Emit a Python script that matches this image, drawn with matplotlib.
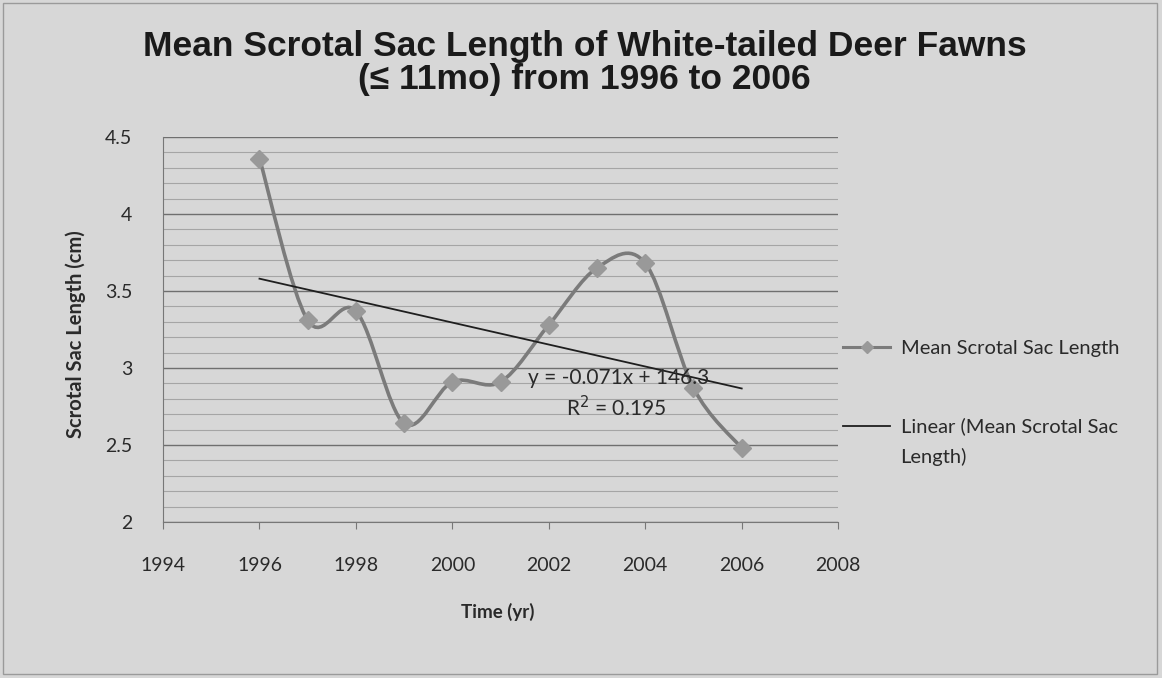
import numpy as np
import matplotlib
matplotlib.use("Agg")
import matplotlib.pyplot as plt
from matplotlib.path import Path
from matplotlib.patches import PathPatch, Rectangle
from matplotlib.lines import Line2D

# Mean scrotal sac length by year
years = [1996, 1997, 1998, 1999, 2000, 2001, 2002, 2003, 2004, 2005, 2006]
mean_length = [4.36, 3.31, 3.37, 2.64, 2.91, 2.91, 3.28, 3.65, 3.68, 2.87, 2.48]

x_ticks = [1994, 1996, 1998, 2000, 2002, 2004, 2006, 2008]
y_ticks = [2, 2.5, 3, 3.5, 4, 4.5]

title = "Mean Scrotal Sac Length of White-tailed Deer Fawns\n(\u2264 11mo) from 1996 to 2006"
series_name = "Mean Scrotal Sac Length"
trend_name = "Linear (Mean Scrotal Sac"
trend_name_cont = "Length)"

BG = "#d7d7d7"
LINE = "#7b7b7b"
MARK = "#999999"
TXT = "#2a2a2a"
body_font = ["Lato", "DejaVu Sans"]

fig = plt.figure(figsize=(11.62, 6.78), dpi=100, facecolor=BG)
ax = fig.add_axes([0.1403, 0.230, 0.581, 0.568])
ax.set_facecolor(BG)

# outer chart border
fig.patches.append(Rectangle((0.003, 0.006), 0.993, 0.989, transform=fig.transFigure,
                             fill=False, edgecolor="#9a9a9a", linewidth=1.0))

ax.set_xlim(1994, 2008)
ax.set_ylim(2, 4.5)
ax.set_xticks(x_ticks)
ax.set_yticks(y_ticks)
ax.set_yticklabels([f"{v:g}" for v in y_ticks])
ax.set_yticks(np.arange(2, 4.5001, 0.1), minor=True)
ax.grid(True, axis="y", which="major", color="#6f6f6f", linewidth=1.0)
ax.grid(True, axis="y", which="minor", color="#a5a5a5", linewidth=0.8)
ax.set_axisbelow(True)
for s in ("top", "right"):
    ax.spines[s].set_visible(False)
for s in ("left", "bottom"):
    ax.spines[s].set_color("#777777")
ax.tick_params(axis="x", which="major", direction="out", length=5, color="#777777",
               labelsize=14, labelcolor=TXT, pad=20)
ax.tick_params(axis="y", which="major", direction="out", length=0,
               labelsize=14, labelcolor=TXT, pad=22)
ax.tick_params(axis="y", which="minor", length=0)
for lab in ax.get_xticklabels() + ax.get_yticklabels():
    lab.set_family(body_font)

# smoothed series line (cubic Bezier segments through every data point)
xs = np.array(years, dtype=float)
ys = np.array(mean_length, dtype=float)
n = len(xs)
verts = [(xs[0], ys[0])]
codes = [Path.MOVETO]
for i in range(n - 1):
    p0 = (xs[max(i - 1, 0)], ys[max(i - 1, 0)])
    p1 = (xs[i], ys[i])
    p2 = (xs[i + 1], ys[i + 1])
    p3 = (xs[min(i + 2, n - 1)], ys[min(i + 2, n - 1)])
    c1 = (p1[0] + (p2[0] - p0[0]) / 6, p1[1] + (p2[1] - p0[1]) / 6)
    c2 = (p2[0] - (p3[0] - p1[0]) / 6, p2[1] - (p3[1] - p1[1]) / 6)
    verts += [c1, c2, p2]
    codes += [Path.CURVE4] * 3
ax.add_patch(PathPatch(Path(verts, codes), facecolor="none", edgecolor=LINE,
                       linewidth=2.6, capstyle="round", joinstyle="round", zorder=3))
ax.plot(years, mean_length, linestyle="none", marker="D", markersize=9,
        color=MARK, markeredgecolor=MARK, zorder=4)

# linear trend line
slope, intercept = np.polyfit(xs, ys, 1)
tx = np.array([xs[0], xs[-1]])
ax.plot(tx, slope * tx + intercept, color="#1e1e1e", linewidth=1.3, zorder=3.5)

ax.text(2003.45, 2.935, "y = -0.071x + 146.3", ha="center", va="center",
        fontsize=15, color=TXT, family=body_font, zorder=5)
ax.text(2003.4, 2.74, "R$^2$ = 0.195", ha="center", va="center",
        fontsize=15, color=TXT, family=body_font, zorder=5)

# axis titles
fig.text(0.065, 0.507, "Scrotal Sac Length (cm)", rotation=90, ha="center", va="center",
         fontsize=14.5, fontweight="bold", color=TXT, family=body_font)
fig.text(0.428, 0.097, "Time (yr)", ha="center", va="center",
         fontsize=13.5, fontweight="bold", color=TXT, family=body_font)

# chart title
fig.text(0.503, 0.907, title, ha="center", va="center", fontsize=25.5, fontweight="bold",
         color="#1a1a1a", family=["Liberation Sans", "DejaVu Sans"], linespacing=1.03)

# legend
handles = [Line2D([0], [0], color=LINE, linewidth=2.2, marker="D", markersize=6,
                  markerfacecolor=MARK, markeredgecolor=MARK),
           Line2D([0], [0], color="#1e1e1e", linewidth=1.3)]
leg = fig.legend(handles, [series_name, trend_name], loc="upper left",
                 bbox_to_anchor=(0.710, 0.525), frameon=False, handlelength=2.35,
                 handletextpad=0.5, labelspacing=3.0,
                 prop={"family": body_font, "size": 14.5})
for t in leg.get_texts():
    t.set_color(TXT)

# wrapped continuation of the trend-line legend entry
fig.canvas.draw()
bb = leg.get_texts()[1].get_window_extent().transformed(fig.transFigure.inverted())
fig.text(bb.x0, bb.y0 - 0.018, trend_name_cont, ha="left", va="top",
         fontsize=14.5, color=TXT, family=body_font)

fig.savefig("out.png", dpi=100, facecolor=BG)
